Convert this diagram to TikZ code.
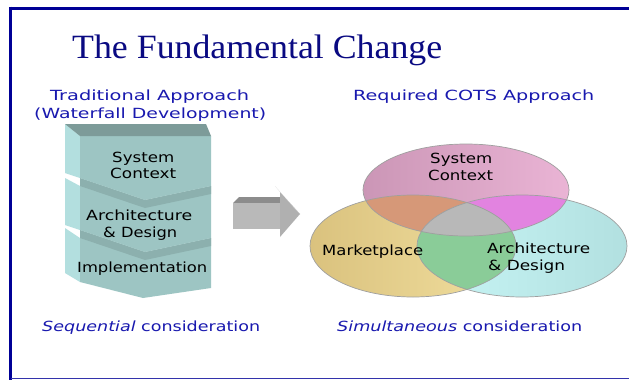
\documentclass[tikz,border=0pt]{standalone}
\usepackage{fontspec}
\usepackage{graphicx}
\setmainfont{Liberation Serif}
\newfontfamily\labfont{DejaVu Sans}
\definecolor{framecol}{RGB}{0,0,150}
\definecolor{titleblue}{RGB}{10,10,130}
\definecolor{labblue}{RGB}{25,25,175}
\definecolor{tfront}{RGB}{157,197,195}
\definecolor{tleft}{RGB}{179,223,223}
\definecolor{ttop}{RGB}{125,155,153}
\definecolor{tband}{RGB}{140,176,174}
\definecolor{pinkA}{RGB}{203,150,182}
\definecolor{pinkB}{RGB}{234,180,213}
\definecolor{yelA}{RGB}{218,194,126}
\definecolor{yelB}{RGB}{242,224,160}
\definecolor{cyaA}{RGB}{200,246,246}
\definecolor{cyaB}{RGB}{178,224,224}
\definecolor{orangeV}{RGB}{214,152,120}
\definecolor{magV}{RGB}{226,131,224}
\definecolor{greenV}{RGB}{138,204,152}
\definecolor{grayV}{RGB}{184,184,184}
\definecolor{arrFront}{RGB}{185,185,185}
\definecolor{arrTop}{RGB}{140,140,140}
\definecolor{arrHead}{RGB}{176,176,176}
\definecolor{arrSide}{RGB}{208,208,208}
\newcommand\fitw[2]{\resizebox{#1pt}{\height}{#2}}
\def\pinkE{(466,190) ellipse [x radius=103, y radius=46]}
\def\yelE{(413,246) ellipse [x radius=103, y radius=51]}
\def\cyaE{(522,246) ellipse [x radius=105, y radius=51]}
\begin{document}
\begin{tikzpicture}[x=1pt,y=-1pt,
  lbl/.style={inner sep=0pt, anchor=base west, font=\labfont\fontsize{14}{16}\selectfont},
  bluelbl/.style={lbl, text=labblue},
  outl/.style={draw=gray!75, line width=0.7pt}]
\useasboundingbox (0,0) rectangle (629,380);
\fill[white] (0,0) rectangle (629,380);
% frame
\draw[framecol, line width=3pt] (10.5,8) -- (629,8);
\draw[framecol, line width=3.5pt] (10.5,6.5) -- (10.5,380);
\draw[framecol!80, line width=1.2pt] (10.5,378.5) -- (629,378.5);
% title
\node[inner sep=0pt, anchor=base west, text=titleblue, font=\fontsize{34}{40}\selectfont] (title) at (72,58) {\fitw{370}{The Fundamental Change}};
% headings
\node[bluelbl] (trad) at (50,100) {\fitw{199}{Traditional Approach}};
\node[bluelbl] (water) at (34,118) {\fitw{232}{(Waterfall Development)}};
\node[bluelbl] (req) at (353,100) {\fitw{241}{Required COTS Approach}};
% waterfall stack (bottom block first)
\fill[tleft] (65,228) -- (80,238) -- (80,282) -- (65,273) -- cycle;
\fill[tfront] (80,230) -- (145,252) -- (211,238) -- (211,288) -- (143,298) -- (80,282) -- cycle;
\fill[tband] (80,230) -- (145,252) -- (211,238) -- (211,246) -- (145,260) -- (80,238) -- cycle;
\fill[tleft] (65,178) -- (80,186) -- (80,230) -- (65,225) -- cycle;
\fill[tfront] (80,178) -- (145,200) -- (211,186) -- (211,238) -- (145,252) -- (80,230) -- cycle;
\fill[tband] (80,178) -- (145,200) -- (211,186) -- (211,194) -- (145,208) -- (80,186) -- cycle;
\fill[tleft] (65,124) -- (80,136) -- (80,178) -- (65,173) -- cycle;
\fill[tfront] (80,136) -- (211,136) -- (211,186) -- (145,200) -- (80,178) -- cycle;
\fill[ttop] (65,124) -- (206,124) -- (211,136) -- (80,136) -- cycle;
\node[lbl] (w1a) at (112,162) {\fitw{62}{System}};
\node[lbl] (w1b) at (110,178.5) {\fitw{66}{Context}};
\node[lbl] (w2a) at (86,220) {\fitw{106}{Architecture}};
\node[lbl] (w2b) at (103,237) {\fitw{74}{\& Design}};
\node[lbl] (w3) at (77,272) {\fitw{130}{Implementation}};
% block arrow
\fill[arrTop] (233,203) -- (239,197) -- (284,197) -- (280,203) -- cycle;
\fill[arrFront] (233,203) rectangle (280,229);
\fill[arrHead] (280,192) -- (300,214) -- (280,237) -- cycle;
\fill[arrSide] (275,186) -- (295,209) -- (300,214) -- (280,192) -- cycle;
% venn
\shade[left color=pinkA, right color=pinkB] \pinkE;
\shade[left color=yelA, right color=yelB] \yelE;
\shade[left color=cyaA, right color=cyaB] \cyaE;
\begin{scope}\clip \pinkE; \fill[orangeV] \yelE; \fill[magV] \cyaE; \end{scope}
\begin{scope}\clip \yelE; \fill[greenV] \cyaE; \end{scope}
\begin{scope}\clip \pinkE; \clip \yelE; \fill[grayV] \cyaE; \end{scope}
\path[outl] \pinkE;
\path[outl] \yelE;
\path[outl] \cyaE;
\node[lbl] (v1a) at (430,163) {\fitw{62}{System}};
\node[lbl] (v1b) at (428,180) {\fitw{65}{Context}};
\node[lbl] (v2) at (322,255) {\fitw{101}{Marketplace}};
\node[lbl] (v3a) at (487,253) {\fitw{103}{Architecture}};
\node[lbl] (v3b) at (488,270) {\fitw{77}{\& Design}};
% captions
\node[bluelbl] (seq) at (42,331) {\fitw{218}{\textit{Sequential} consideration}};
\node[bluelbl] (sim) at (337,331) {\fitw{245}{\textit{Simultaneous} consideration}};
\end{tikzpicture}
\end{document}
